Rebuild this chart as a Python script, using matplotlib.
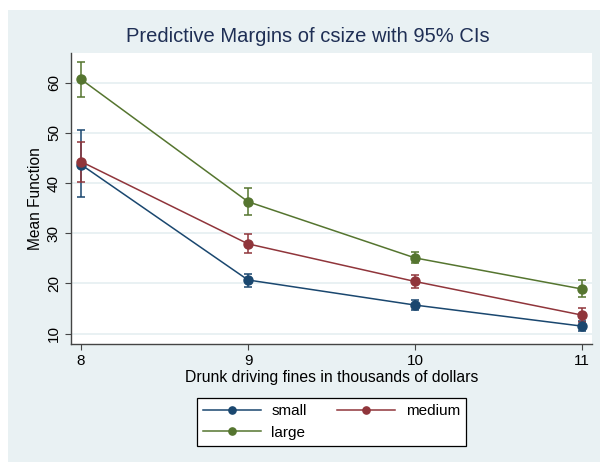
import numpy as np
import matplotlib.pyplot as plt
from matplotlib.patches import Rectangle
from matplotlib.lines import Line2D

plt.rcParams['font.family'] = ['Liberation Sans', 'DejaVu Sans']

fines = [8, 9, 10, 11]
groups = ["small", "medium", "large"]

small = [43.7, 20.7, 15.7, 11.5]
small_lo = [37.2, 19.3, 14.7, 10.5]
small_hi = [50.5, 21.9, 16.7, 12.6]

medium = [44.3, 27.9, 20.4, 13.7]
medium_lo = [40.3, 26.1, 19.2, 12.3]
medium_hi = [48.3, 29.8, 21.7, 15.2]

large = [60.7, 36.3, 25.1, 18.9]
large_lo = [57.1, 33.7, 24.0, 17.3]
large_hi = [64.1, 39.0, 26.2, 20.6]

yticks = [10, 20, 30, 40, 50, 60]

colors = {"small": "#1A476F", "medium": "#90353B", "large": "#55752F"}
bg = "#E9F1F3"

fig = plt.figure(figsize=(6, 4.62), dpi=100)
# shaded graph region (Stata style)
fig.add_artist(Rectangle((8 / 600, 0), 592 / 600, 452 / 462,
                         transform=fig.transFigure, facecolor=bg,
                         edgecolor="none", zorder=-10))

ax = fig.add_axes([71 / 600, 118 / 462, 521 / 600, 291 / 462])
ax.set_facecolor("white")

series = [(small, small_lo, small_hi, "small"),
          (medium, medium_lo, medium_hi, "medium"),
          (large, large_lo, large_hi, "large")]
handles = {}
for est, lo, hi, name in series:
    est = np.array(est)
    yerr = [est - np.array(lo), np.array(hi) - est]
    ax.errorbar(fines, est, yerr=yerr, color=colors[name], lw=1.1,
                elinewidth=1.1, capsize=2.9, capthick=1.1,
                marker="o", markersize=6.5, zorder=3)
    handles[name] = Line2D([], [], color=colors[name], lw=1.1, marker="o",
                           markersize=5.2)

ax.set_xlim(7.94, 11.06)
ax.set_ylim(7.94, 65.94)
ax.set_xticks(fines)
ax.set_yticks(yticks)
ax.yaxis.grid(True, color=bg, lw=1.4)
ax.set_axisbelow(True)

for s in ["top", "right"]:
    ax.spines[s].set_visible(False)
for s in ["left", "bottom"]:
    ax.spines[s].set_color("#444444")
    ax.spines[s].set_linewidth(1.0)

ax.tick_params(axis="both", direction="out", length=4.3, width=0.8,
               color="#444444", labelsize=11, pad=3)
plt.setp(ax.get_yticklabels(), rotation=90, va="center")

ax.set_ylabel("Mean Function", fontsize=11.2, labelpad=3)
ax.set_xlabel("Drunk driving fines in thousands of dollars", fontsize=11.3,
              labelpad=1.5)

fig.text(308 / 600, 1 - 36 / 462, "Predictive Margins of csize with 95% CIs",
         ha="center", va="center", fontsize=14.5, color="#1F2F55")

# legend filled row by row: small, medium / large
order = ["small", "large", "medium"]
leg = fig.legend([handles[g] for g in order], order, ncol=2, loc="center",
                 bbox_to_anchor=(331.5 / 600, 1 - 422 / 462),
                 fontsize=11, frameon=True, fancybox=False, framealpha=1,
                 handlelength=3.8, handletextpad=0.7, columnspacing=2.0,
                 labelspacing=0.5, borderpad=0.4)
leg.get_frame().set_edgecolor("black")
leg.get_frame().set_facecolor("white")
leg.get_frame().set_linewidth(0.9)

fig.savefig("out.png", dpi=100)
